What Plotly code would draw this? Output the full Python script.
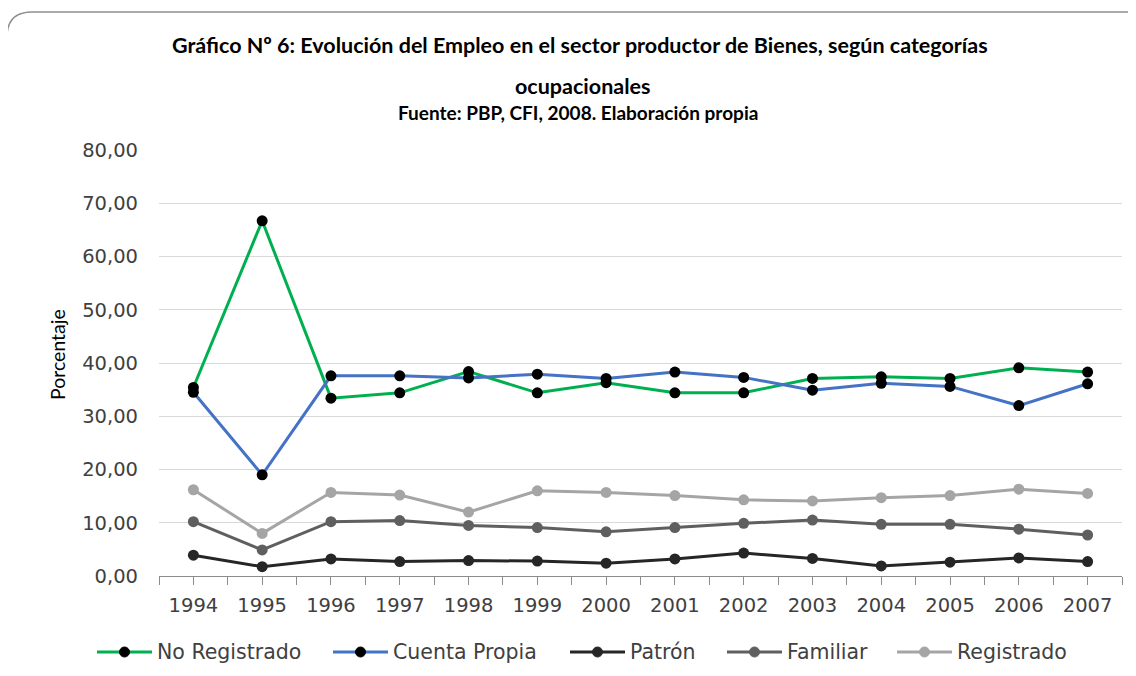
import plotly.graph_objects as go

# --- data ---
years = [1994, 1995, 1996, 1997, 1998, 1999, 2000,
         2001, 2002, 2003, 2004, 2005, 2006, 2007]
no_registrado = [35.4, 66.7, 33.4, 34.4, 38.4, 34.4, 36.3,
                 34.4, 34.4, 37.1, 37.4, 37.1, 39.1, 38.3]
cuenta_propia = [34.5, 19.0, 37.6, 37.6, 37.2, 37.9, 37.1,
                 38.3, 37.3, 34.9, 36.2, 35.6, 32.0, 36.1]
patron = [3.9, 1.75, 3.2, 2.7, 2.9, 2.8, 2.4,
          3.2, 4.3, 3.3, 1.9, 2.6, 3.4, 2.7]
familiar = [10.2, 4.9, 10.2, 10.4, 9.5, 9.1, 8.3,
            9.1, 9.9, 10.5, 9.7, 9.7, 8.8, 7.7]
registrado = [16.2, 8.0, 15.7, 15.2, 12.0, 16.0, 15.7,
              15.1, 14.3, 14.1, 14.7, 15.1, 16.3, 15.5]

C = {'green': '#00B050', 'blue': '#4472C4', 'patron': '#262626',
     'familiar': '#5F5F5F', 'reg': '#A5A5A5', 'grid': '#D9D9D9',
     'axis': '#8C8C8C', 'text': '#404040'}

# page body adds an 8px margin all round; work in screenshot pixels
OFF = 8
W, H = 1136 - 2 * OFF, 676 - 2 * OFF
L, R, T, B = 159 - OFF, 1122 - OFF, 150 - OFF, 576 - OFF
def px(x): return (x - OFF - L) / (R - L)
def py(y): return (B - (y - OFF)) / (B - T)

series = [
    ('No Registrado', no_registrado, C['green'], 'black'),
    ('Cuenta Propia', cuenta_propia, C['blue'], 'black'),
    ('Patrón', patron, C['patron'], C['patron']),
    ('Familiar', familiar, C['familiar'], C['familiar']),
    ('Registrado', registrado, C['reg'], C['reg']),
]
legend_x = [97, 333, 570, 727, 897]   # screen x where each legend key starts

fig = go.Figure()
for (name, vals, lc, mc), lx in zip(series, legend_x):
    fig.add_trace(go.Scatter(
        x=years, y=vals, name=name, mode='lines+markers',
        line=dict(color=lc, width=3),
        marker=dict(color=mc, size=11),
        showlegend=False,
    ))
    # hand-drawn legend key (Excel style: long line, marker in middle)
    ly = py(652)
    fig.add_shape(type='line', xref='paper', yref='paper',
                  x0=px(lx), x1=px(lx + 55), y0=ly, y1=ly,
                  line=dict(color=lc, width=3))
    fig.add_shape(type='circle', xref='paper', yref='paper',
                  xsizemode='pixel', ysizemode='pixel',
                  xanchor=px(lx + 27.5), yanchor=ly,
                  x0=-5, x1=5, y0=-5, y1=5,
                  fillcolor=mc, line=dict(color=mc, width=1))
    fig.add_annotation(text=name, x=px(lx + 58), y=ly,
                       xref='paper', yref='paper', showarrow=False,
                       xanchor='left', yanchor='middle',
                       font=dict(family='DejaVu Sans', size=20.5, color=C['text']))

# ticks at each category and between categories (Excel style)
tickvals, ticktext = [], []
for yr in years:
    tickvals += [yr - 0.5, yr]
    ticktext += ['', str(yr)]
tickvals.append(years[-1] + 0.5)
ticktext.append('')

fig.update_layout(
    width=W, height=H,
    paper_bgcolor='white', plot_bgcolor='white',
    margin=dict(l=L, r=W - R, t=T, b=H - B),
    separators=',.',
    font=dict(family='DejaVu Sans', color=C['text']),
    showlegend=False,
    xaxis=dict(range=[years[0] - 0.5, years[-1] + 0.5],
               tickmode='array', tickvals=tickvals, ticktext=ticktext,
               ticks='outside', ticklen=8, tickcolor=C['axis'],
               showline=True, linecolor=C['axis'], linewidth=1,
               showgrid=False, zeroline=False, ticklabelstandoff=4,
               tickfont=dict(size=19.5, color=C['text'])),
    yaxis=dict(range=[0, 80], dtick=10, tickformat='.2f',
               showgrid=True, gridcolor=C['grid'], gridwidth=1,
               zeroline=False, showline=False,
               ticklabelstandoff=20,
               tickfont=dict(size=19.5, color=C['text'])),
)

# titles
def label(text, x, y, size, **kw):
    fig.add_annotation(text=text, x=px(x), y=py(y), xref='paper', yref='paper',
                       showarrow=False, xanchor='center', yanchor='middle',
                       font=dict(family='Lato', size=size, color='black'), **kw)

label('<b>Gráfico Nº 6: Evolución del Empleo en el sector productor de Bienes, según categorías</b>',
      580, 45, 21.5)
label('<b>ocupacionales</b>', 582, 86, 21.5)
label('<b>Fuente: PBP, CFI, 2008. Elaboración propia</b>', 578, 113, 19)
label('Porcentaje', 57, 355, 19.5, textangle=-90)

# rounded chart border
rr = 25
path = (f'M {px(7)},{py(720)} L {px(7)},{py(12 + rr)} '
        f'Q {px(7)},{py(12)} {px(7 + rr)},{py(12)} L {px(1160)},{py(12)}')
fig.add_shape(type='path', path=path, xref='paper', yref='paper',
              line=dict(color='#8F8F8F', width=1.5))

fig.write_html('out.html')
